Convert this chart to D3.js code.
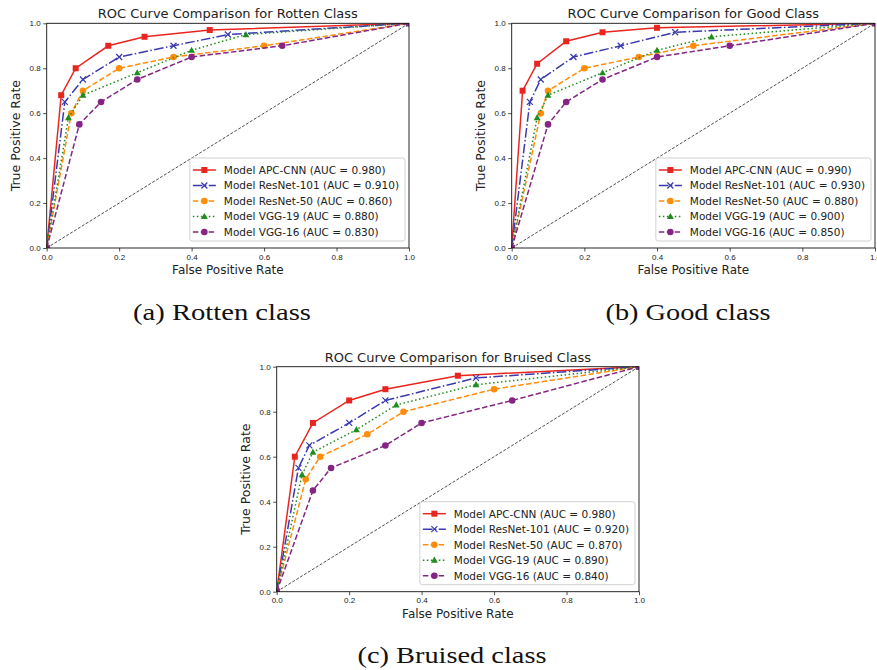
<!DOCTYPE html>
<html>
<head>
<meta charset="utf-8">
<script src="https://cdn.jsdelivr.net/npm/d3@7"></script>
<style>
  body { margin: 0; background: #fff; }
  svg { display: block; font-family: "DejaVu Sans", sans-serif; }
  .tick text { font-size: 8px; fill: #222; }
  .caption { font-family: "Liberation Serif", serif; font-size: 24px; fill: #111; }
</style>
</head>
<body>
<svg id="chart" width="877" height="670"></svg>
<script>
// models and legend order
const models = ["APC-CNN", "ResNet-101", "ResNet-50", "VGG-19", "VGG-16"];
const colors = ["#e8261f", "#3a3ab0", "#ff8c0a", "#1e8c1e", "#842584"];
const markers = ["square", "cross", "circle", "triangle", "circle"];
const dashes = ["", "9.6,2.4,1.5,2.4", "5.5,2.4", "1.5,2.5", "5.5,2.4"];

const xTicks = [0, 0.2, 0.4, 0.6, 0.8, 1.0];
const yTicks = [0, 0.2, 0.4, 0.6, 0.8, 1.0];

// Rotten class
const rottenAuc = [0.980, 0.910, 0.860, 0.880, 0.830];
const rottenFpr = [
  [0, 0.04, 0.08, 0.17, 0.27, 0.45, 1],
  [0, 0.05, 0.10, 0.20, 0.35, 0.50, 1],
  [0, 0.068, 0.10, 0.20, 0.35, 0.60, 1],
  [0, 0.06, 0.10, 0.25, 0.40, 0.55, 1],
  [0, 0.09, 0.15, 0.25, 0.40, 0.65, 1]
];
const rottenTpr = [
  [0, 0.68, 0.80, 0.90, 0.94, 0.97, 1],
  [0, 0.65, 0.75, 0.85, 0.90, 0.95, 1],
  [0, 0.60, 0.70, 0.80, 0.85, 0.90, 1],
  [0, 0.58, 0.68, 0.78, 0.88, 0.95, 1],
  [0, 0.55, 0.65, 0.75, 0.85, 0.90, 1]
];

// Good class
const goodAuc = [0.990, 0.930, 0.880, 0.900, 0.850];
const goodFpr = [
  [0, 0.03, 0.07, 0.15, 0.25, 0.40, 1],
  [0, 0.05, 0.08, 0.17, 0.30, 0.45, 1],
  [0, 0.08, 0.10, 0.20, 0.35, 0.50, 1],
  [0, 0.07, 0.10, 0.25, 0.40, 0.55, 1],
  [0, 0.10, 0.15, 0.25, 0.40, 0.60, 1]
];
const goodTpr = [
  [0, 0.70, 0.82, 0.92, 0.96, 0.98, 1],
  [0, 0.65, 0.75, 0.85, 0.90, 0.96, 1],
  [0, 0.60, 0.70, 0.80, 0.85, 0.90, 1],
  [0, 0.58, 0.68, 0.78, 0.88, 0.94, 1],
  [0, 0.55, 0.65, 0.75, 0.85, 0.90, 1]
];

// Bruised class
const bruisedAuc = [0.980, 0.920, 0.870, 0.890, 0.840];
const bruisedFpr = [
  [0, 0.05, 0.10, 0.20, 0.30, 0.50, 1],
  [0, 0.06, 0.09, 0.20, 0.30, 0.55, 1],
  [0, 0.08, 0.12, 0.25, 0.35, 0.60, 1],
  [0, 0.07, 0.10, 0.22, 0.33, 0.55, 1],
  [0, 0.10, 0.15, 0.30, 0.40, 0.65, 1]
];
const bruisedTpr = [
  [0, 0.60, 0.75, 0.85, 0.90, 0.96, 1],
  [0, 0.55, 0.65, 0.75, 0.85, 0.95, 1],
  [0, 0.50, 0.60, 0.70, 0.80, 0.90, 1],
  [0, 0.52, 0.62, 0.72, 0.83, 0.92, 1],
  [0, 0.45, 0.55, 0.65, 0.75, 0.85, 1]
];

const svg = d3.select("#chart");
const fmt = d3.format(".1f");
const aucFmt = d3.format(".3f");

function drawMarker(g, type, cx, cy, color) {
  if (type == "square") {
    g.append("rect").attr("x", cx - 3).attr("y", cy - 3).attr("width", 6).attr("height", 6)
      .style("fill", color);
  } else if (type == "circle") {
    g.append("circle").attr("cx", cx).attr("cy", cy).attr("r", 3.3).style("fill", color);
  } else if (type == "triangle") {
    g.append("path").attr("d", `M${cx},${cy - 3.6}L${cx + 3.4},${cy + 2.6}L${cx - 3.4},${cy + 2.6}Z`)
      .style("fill", color);
  } else {
    g.append("path").attr("d", `M${cx - 3},${cy - 3}L${cx + 3},${cy + 3}M${cx - 3},${cy + 3}L${cx + 3},${cy - 3}`)
      .style("stroke", color).style("stroke-width", 1.2).style("fill", "none");
  }
}

function drawPanel(id, cfg) {
  let x = d3.scaleLinear().domain([0, 1]).range([cfg.left, cfg.right]);
  let y = d3.scaleLinear().domain([0, 1]).range([cfg.bottom, cfg.top]);
  let g = svg.append("g").attr("class", "panel-" + id);

  g.append("clipPath").attr("id", "clip-" + id)
    .append("rect").attr("x", cfg.left).attr("y", cfg.top)
    .attr("width", cfg.right - cfg.left).attr("height", cfg.bottom - cfg.top);

  let plot = g.append("g").attr("clip-path", `url(#clip-${id})`);

  // chance line
  plot.append("line")
    .attr("x1", x(0)).attr("y1", y(0)).attr("x2", x(1)).attr("y2", y(1))
    .style("stroke", "#222").style("stroke-width", 0.8).style("stroke-dasharray", "3,1.6");

  let line = d3.line().x(d => x(d[0])).y(d => y(d[1]));

  models.forEach(function(m, i) {
    let pts = cfg.fpr[i].map((f, j) => [f, cfg.tpr[i][j]]);
    plot.append("path")
      .attr("d", line(pts))
      .style("fill", "none")
      .style("stroke", colors[i])
      .style("stroke-width", 1.5)
      .style("stroke-dasharray", dashes[i]);
    pts.forEach(p => drawMarker(plot, markers[i], x(p[0]), y(p[1]), colors[i]));
  });

  // axes
  let xaxis = d3.axisBottom(x).tickValues(xTicks).tickFormat(fmt).tickSize(3.5).tickPadding(2.5);
  let yaxis = d3.axisLeft(y).tickValues(yTicks).tickFormat(fmt).tickSize(3.5).tickPadding(2.5);
  g.append("g").attr("transform", `translate(0,${cfg.bottom})`).call(xaxis)
    .call(a => a.select(".domain").remove());
  g.append("g").attr("transform", `translate(${cfg.left},0)`).call(yaxis)
    .call(a => a.select(".domain").remove());
  g.selectAll(".tick line").style("stroke", "#222").style("stroke-width", 0.8);

  g.append("rect")
    .attr("x", cfg.left).attr("y", cfg.top)
    .attr("width", cfg.right - cfg.left).attr("height", cfg.bottom - cfg.top)
    .style("fill", "none").style("stroke", "#111").style("stroke-width", 0.9);

  // titles
  g.append("text").text(cfg.title)
    .attr("x", (cfg.left + cfg.right) / 2).attr("y", cfg.top - 5)
    .style("text-anchor", "middle").style("font-size", "13px").style("fill", "#222");
  g.append("text").text("False Positive Rate")
    .attr("x", (cfg.left + cfg.right) / 2).attr("y", cfg.bottom + 26)
    .style("text-anchor", "middle").style("font-size", "12px").style("fill", "#222");
  g.append("text").text("True Positive Rate")
    .attr("transform", `translate(${cfg.left - 27},${(cfg.top + cfg.bottom) / 2}) rotate(-90)`)
    .style("text-anchor", "middle").style("font-size", "12.5px").style("fill", "#222");

  // legend
  let lg = g.append("g");
  let box = lg.append("rect");
  let rowh = 15.5;
  let widths = [];
  let texts = models.map(function(m, i) {
    let t = lg.append("text")
      .text(`Model ${m} (AUC = ${aucFmt(cfg.auc[i])})`)
      .style("font-size", "10.5px").style("fill", "#222");
    widths.push(t.node().getComputedTextLength());
    return t;
  });
  let lw = 34 + d3.max(widths) + 6;
  let lh = 12 + rowh * 4 + 9;
  let lx = cfg.right - 4 - lw;
  let ly = cfg.bottom - 7 - lh;
  box.attr("x", lx).attr("y", ly).attr("width", lw).attr("height", lh).attr("rx", 2.5)
    .style("fill", "rgba(255,255,255,0.85)").style("stroke", "#cccccc").style("stroke-width", 0.9);
  models.forEach(function(m, i) {
    let cy = ly + 12 + i * rowh;
    lg.append("line").attr("x1", lx + 3).attr("x2", lx + 26).attr("y1", cy).attr("y2", cy)
      .style("stroke", colors[i]).style("stroke-width", 1.5).style("stroke-dasharray", dashes[i]);
    drawMarker(lg, markers[i], lx + 14.5, cy, colors[i]);
    texts[i].attr("x", lx + 34).attr("y", cy + 3.8);
  });

  svg.append("text").attr("class", "caption").text(cfg.caption)
    .attr("x", cfg.capx).attr("y", cfg.capy).style("text-anchor", "middle")
    .attr("textLength", cfg.capw).attr("lengthAdjust", "spacingAndGlyphs");
}

drawPanel("a", {
  left: 46.7, right: 409, top: 23.3, bottom: 248,
  title: "ROC Curve Comparison for Rotten Class",
  fpr: rottenFpr, tpr: rottenTpr, auc: rottenAuc,
  caption: "(a) Rotten class", capx: 222, capy: 320, capw: 178
});
drawPanel("b", {
  left: 511.7, right: 875, top: 23.3, bottom: 248,
  title: "ROC Curve Comparison for Good Class",
  fpr: goodFpr, tpr: goodTpr, auc: goodAuc,
  caption: "(b) Good class", capx: 688, capy: 320, capw: 165
});
drawPanel("c", {
  left: 276.7, right: 639, top: 366.7, bottom: 591.7,
  title: "ROC Curve Comparison for Bruised Class",
  fpr: bruisedFpr, tpr: bruisedTpr, auc: bruisedAuc,
  caption: "(c) Bruised class", capx: 452, capy: 663, capw: 189
});
</script>
</body>
</html>
